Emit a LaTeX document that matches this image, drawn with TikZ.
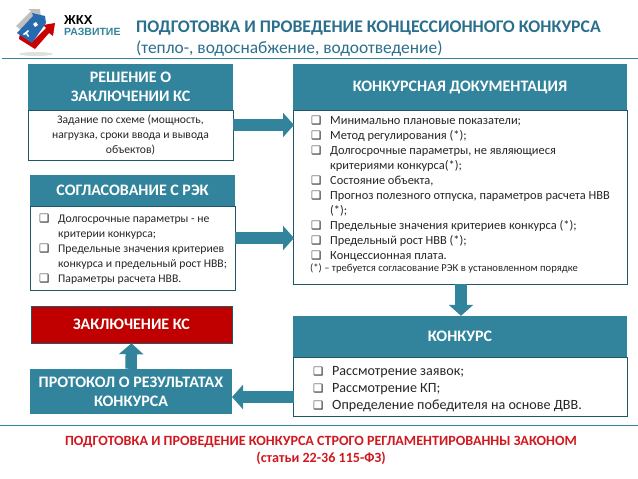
\documentclass[tikz,border=0pt]{standalone}
\usepackage{fontspec}
\setmainfont{Carlito}
\newfontfamily\symbfont{DejaVu Sans}
\newfontfamily\logofont{Liberation Sans}
\usepackage{xcolor}
\usetikzlibrary{arrows.meta}
\definecolor{tealhead}{HTML}{31849B}
\definecolor{tealline}{HTML}{215868}
\definecolor{redbox}{HTML}{C00000}
\definecolor{redtext}{HTML}{D0191F}
\definecolor{titleblue}{HTML}{2A6F8C}
\newcommand{\chk}{\makebox[19pt][l]{\symbfont\fontsize{11.5}{11}\selectfont ❑}}
\newcommand{\cnt}{\hspace*{19pt}}

\begin{document}
\begin{tikzpicture}[
      x=1pt, y=-1pt,
      headbox/.style={fill=tealhead, text=white, align=center, inner sep=0pt, font=\fontsize{16}{19}\selectfont\bfseries},
      bodybox/.style={draw=tealline, line width=0.8pt, fill=white},
      bodytext/.style={inner sep=0pt, align=left, anchor=north west, text=black!85, font=\fontsize{12.4}{15}\selectfont},
      bigarrow/.style={draw=tealhead, line width=11.5pt, -{Triangle[length=11pt,width=24pt]}}
    ]
    \useasboundingbox (0,0) rectangle (638,479);

    % logo
    \fill[black!12] (36,54) ellipse (17 and 2);
    \fill[black!25] (16,26) -- (31,11) -- (28,9) -- (40,9) -- (41,18) -- (38,15.5) -- (22,31) -- cycle;
    \fill[redbox!85!red] (19,39) -- (35,49) -- (49,33) -- (53,36) -- (55,23) -- (43,25) -- (46,28) -- (34,40) -- (20,33) -- cycle;
    \fill[tealhead!80!blue] (17,33) -- (33,16) -- (32,13) -- (45,16) -- (46,23) -- (32,43) -- cycle;
    \fill[white] (33,24) -- (36,22) -- (38,25) -- (35,27) -- cycle;
    \fill[white] (23,34) -- (28,30) -- (29,31) -- (27,33) -- (29,36) -- (28,37) -- (26,34) -- (24,35) -- cycle;
    \node[inner sep=0pt, anchor=west, font=\logofont\fontsize{13}{13}\selectfont\bfseries] (zhkh) at (64,20) {ЖКХ};
    \node[inner sep=0pt, anchor=west, text=tealhead, font=\logofont\fontsize{10.5}{10.5}\selectfont\bfseries] (razv) at (64,32) {РАЗВИТИЕ};

    % title
    \node[inner sep=0pt, anchor=west, text=titleblue, font=\fontsize{17.7}{17.7}\selectfont\bfseries] (title) at (136,28) {ПОДГОТОВКА И ПРОВЕДЕНИЕ КОНЦЕССИОННОГО КОНКУРСА};
    \node[inner sep=0pt, anchor=west, text=titleblue, font=\fontsize{17.4}{17.4}\selectfont] (subtitle) at (136,49) {(тепло-, водоснабжение, водоотведение)};
    \coordinate (toplineA) at (2,58);
    \coordinate (toplineB) at (638,58);
    \draw[tealhead, line width=0.7pt] (toplineA) -- (toplineB);

    % left column
    \node[headbox, minimum width=205pt, minimum height=46pt] (reshhead) at (130.5,87) {РЕШЕНИЕ О\\ЗАКЛЮЧЕНИИ КС};
    \node[bodybox, minimum width=205pt, minimum height=50pt, align=center, inner sep=0pt, text=black!85, font=\fontsize{11.6}{15}\selectfont] (reshbody) at (130.5,135.5) {Задание по схеме (мощность,\\нагрузка, сроки ввода и вывода\\объектов)};

    \node[headbox, minimum width=205pt, minimum height=31pt] (soglhead) at (132.5,190.5) {СОГЛАСОВАНИЕ С РЭК};
    \node[bodybox, minimum width=205pt, minimum height=84pt] (soglbody) at (132.5,248) {};
    \node[bodytext, font=\fontsize{11.7}{15.1}\selectfont] (sogltext) at (39,214) {\chk Долгосрочные параметры - не\\\cnt критерии конкурса;\\\chk Предельные значения критериев\\\cnt конкурса и предельный рост НВВ;\\\chk Параметры расчета НВВ.};

    \node[headbox, fill=redbox, draw=tealline, line width=0.5pt, minimum width=201pt, minimum height=37pt] (zakl) at (131.5,324.5) {ЗАКЛЮЧЕНИЕ КС};
    \node[headbox, minimum width=202pt, minimum height=45pt] (prot) at (131,391.5) {ПРОТОКОЛ О РЕЗУЛЬТАТАХ\\КОНКУРСА};

    % right column
    \node[headbox, minimum width=334pt, minimum height=46pt] (dochead) at (460,87) {КОНКУРСНАЯ ДОКУМЕНТАЦИЯ};
    \node[bodybox, minimum width=334pt, minimum height=174pt] (docbody) at (460,197) {};
    \node[bodytext] (doctext) at (311,116) {\chk Минимально плановые показатели;\\\chk Метод регулирования (*);\\\chk Долгосрочные параметры, не являющиеся\\\cnt критериями конкурса(*);\\\chk Состояние объекта,\\\chk Прогноз полезного отпуска, параметров расчета НВВ\\\cnt (*);\\\chk Предельные значения критериев конкурса (*);\\\chk Предельный рост НВВ (*);\\\chk Концессионная плата.};
    \node[inner sep=0pt, anchor=west, text=black!85, font=\fontsize{10.6}{12}\selectfont] (docnote) at (310,268) {(*) – требуется согласование РЭК в установленном порядке};

    \node[headbox, minimum width=334pt, minimum height=41pt] (konkhead) at (460,336.5) {КОНКУРС};
    \node[bodybox, minimum width=334pt, minimum height=59pt] (konkbody) at (460,386.5) {};
    \node[bodytext, font=\fontsize{14.1}{17}\selectfont] (konktext) at (313,366) {\chk Рассмотрение заявок;\\\chk Рассмотрение КП;\\\chk Определение победителя на основе ДВВ.};

    % arrows
    \coordinate (reshout) at (233,125);
    \coordinate (docinA) at (294,125);
    \coordinate (soglout) at (235,238);
    \coordinate (docinB) at (294,238);
    \coordinate (konkout) at (294,397);
    \coordinate (protin) at (232,397);
    \draw[bigarrow] (reshout) -- (docinA);
    \draw[bigarrow] (soglout) -- (docinB);
    \draw[bigarrow] (konkout) -- (protin);
    \draw[bigarrow] (docbody.south) ++(1,0) coordinate (docout) (docout) -- (konkhead.north -| docout);
    \draw[bigarrow] (prot.north) -- (zakl.south);

    % bottom
    \coordinate (botlineA) at (0,425);
    \coordinate (botlineB) at (638,425);
    \draw[tealhead, line width=0.7pt] (botlineA) -- (botlineB);
    \node[inner sep=0pt, text=redtext, font=\fontsize{14.1}{17}\selectfont\bfseries, align=center] (law) at (321,450) {ПОДГОТОВКА И ПРОВЕДЕНИЕ КОНКУРСА СТРОГО РЕГЛАМЕНТИРОВАННЫ ЗАКОНОМ\\(статьи 22-36 115-ФЗ)};
  \end{tikzpicture}
\end{document}
